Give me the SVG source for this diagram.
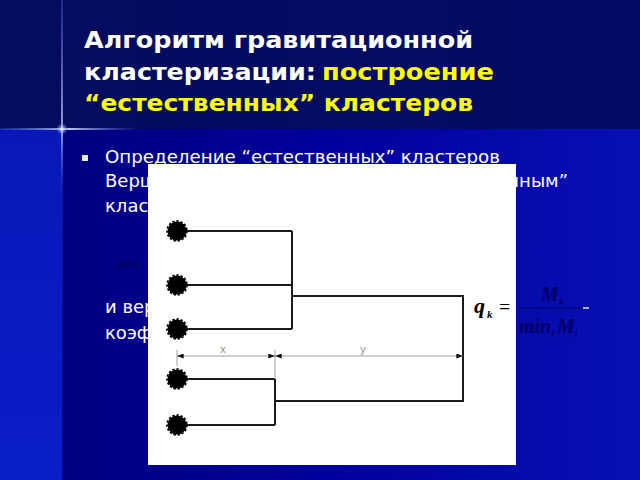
<svg xmlns="http://www.w3.org/2000/svg" width="640" height="480" viewBox="0 0 640 480">
<defs>
<linearGradient id="lowbg" x1="0" y1="0" x2="1" y2="0">
<stop offset="0" stop-color="#00007a"/>
<stop offset="0.5" stop-color="#00009c"/>
<stop offset="1" stop-color="#0810b4"/>
</linearGradient>
<linearGradient id="leftbg" x1="0" y1="0" x2="0" y2="1">
<stop offset="0" stop-color="#0818b8"/>
<stop offset="1" stop-color="#0a1ec8"/>
</linearGradient>
<linearGradient id="topbg" x1="0" y1="0" x2="1" y2="0">
<stop offset="0" stop-color="#040c5e"/>
<stop offset="1" stop-color="#020a66"/>
</linearGradient>
<linearGradient id="hglow" x1="0" y1="0" x2="1" y2="0">
<stop offset="0" stop-color="#5a7cff" stop-opacity="0.2"/>
<stop offset="0.5" stop-color="#c8d8ff" stop-opacity="0.9"/>
<stop offset="1" stop-color="#5a7cff" stop-opacity="0"/>
</linearGradient>
<linearGradient id="vglow" x1="0" y1="0" x2="0" y2="1">
<stop offset="0" stop-color="#5a7cff" stop-opacity="0.4"/>
<stop offset="0.27" stop-color="#d8e4ff" stop-opacity="1"/>
<stop offset="0.4" stop-color="#3a5cff" stop-opacity="0.2"/>
<stop offset="1" stop-color="#2a40e0" stop-opacity="0"/>
</linearGradient>
<radialGradient id="flare">
<stop offset="0" stop-color="#ffffff" stop-opacity="1"/>
<stop offset="1" stop-color="#6080ff" stop-opacity="0"/>
</radialGradient>
<marker id="arr" viewBox="0 0 8 6" refX="8" refY="3" markerWidth="7" markerHeight="5" markerUnits="userSpaceOnUse" orient="auto-start-reverse">
<path d="M0,0 L8,3 L0,6 Z" fill="#111"/>
</marker>
<g id="dot">
<circle r="9.5" fill="#000"/>
<circle r="10" fill="none" stroke="#000" stroke-width="1.6" stroke-dasharray="2.4 1.8"/>
</g>
</defs>
<style>
.title{font-family:"DejaVu Sans","Liberation Sans",sans-serif;font-weight:bold;font-size:23px;fill:#ffffff}
.yel{fill:#ffff00}
.body{font-family:"DejaVu Sans","Liberation Sans",sans-serif;font-size:18px;fill:#ffffff}
.ln{stroke:#1a1a1a;stroke-width:2;fill:none}
.dim{stroke:#a0a0a0;stroke-width:1;fill:none}
.dl{font-family:"Liberation Sans",Arial,sans-serif;font-size:11px;fill:#909090}
.math{font-family:"Liberation Serif","Times New Roman",serif;font-style:italic;font-weight:bold}
.hid{fill:#000062}
</style>
<!-- background -->
<rect x="0" y="0" width="640" height="480" fill="url(#lowbg)"/>
<rect x="0" y="129" width="62" height="351" fill="url(#leftbg)"/>
<rect x="0" y="0" width="640" height="129" fill="url(#topbg)"/>
<rect x="0" y="128" width="140" height="2" fill="url(#hglow)"/>
<rect x="61" y="0" width="2" height="480" fill="url(#vglow)" opacity="0.7"/>
<ellipse cx="62" cy="129" rx="6" ry="6" fill="url(#flare)"/>
<!-- title -->
<g id="title">
<text class="title" x="84" y="48" textLength="389" lengthAdjust="spacingAndGlyphs">Алгоритм гравитационной</text>
<text class="title" x="84" y="80" textLength="232" lengthAdjust="spacingAndGlyphs">кластеризации:</text>
<text class="title yel" x="322" y="80" textLength="172" lengthAdjust="spacingAndGlyphs">построение</text>
<text class="title yel" x="84" y="111" textLength="389" lengthAdjust="spacingAndGlyphs">“естественных” кластеров</text>
</g>
<!-- body text -->
<g id="body">
<rect x="82" y="155" width="6" height="6" fill="#e8e8f0"/>
<text class="body" x="105" y="163" textLength="395" lengthAdjust="spacingAndGlyphs">Определение “естественных” кластеров</text>
<text class="body" x="105" y="187">Верш</text>
<text class="body" x="568" y="187" text-anchor="end">енным”</text>
<text class="body" x="105" y="212">класт</text>
<text class="body" x="105" y="313">и вер</text>
<text class="body" x="105" y="339">коэфф</text>
<text class="math hid" x="115" y="268" font-size="15">min</text>
</g>
<!-- white panel -->
<rect id="panel" x="148" y="164" width="368" height="301" fill="#ffffff"/>
<!-- connectors -->
<g id="connectors">
<path class="ln" d="M177,231 H292 M177,285 H292 M177,329 H292 M292,231 V329"/>
<path class="ln" d="M177,379 H275 M177,425 H275 M275,379 V425"/>
<path class="ln" d="M292,296 H463 V401 H275"/>
<path class="dim" d="M177,350 V366 M275,350 V379"/>
<line class="dim" x1="177" y1="356" x2="275" y2="356" marker-start="url(#arr)" marker-end="url(#arr)"/>
<line class="dim" x1="275" y1="356" x2="463" y2="356" marker-start="url(#arr)" marker-end="url(#arr)"/>
<text class="dl" x="223" y="353" text-anchor="middle">x</text>
<text class="dl" x="363" y="353" text-anchor="middle">y</text>
</g>
<!-- nodes -->
<g id="n1"><use href="#dot" x="177" y="231"/></g>
<g id="n2"><use href="#dot" x="177" y="285"/></g>
<g id="n3"><use href="#dot" x="177" y="329"/></g>
<g id="n4"><use href="#dot" x="177" y="379"/></g>
<g id="n5"><use href="#dot" x="177" y="425"/></g>
<!-- formula -->
<g id="formula">
<text class="math" x="474" y="313" font-size="22" fill="#000">q</text>
<text class="math" x="487" y="318" font-size="11" fill="#000">k</text>
<text x="499" y="314" font-family="Liberation Serif,serif" font-size="20" fill="#000">=</text>
<text class="math hid" x="541" y="301" font-size="20">M<tspan font-size="10" dy="4">k</tspan></text>
<line x1="518" y1="308" x2="582" y2="308" stroke="#000062" stroke-width="1.2"/>
<line x1="583" y1="308" x2="589" y2="308" stroke="#e0e8ff" stroke-width="1.5"/>
<text class="math hid" x="519" y="333" font-size="20">min<tspan font-size="10" dy="4">i</tspan><tspan dy="-4" dx="3">M</tspan><tspan font-size="10" dy="4">i</tspan></text>
</g>
</svg>
